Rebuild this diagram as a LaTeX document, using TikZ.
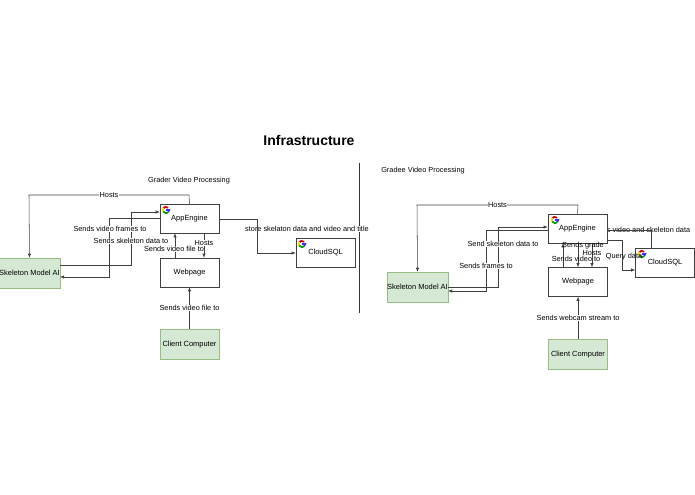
\documentclass[tikz,border=0pt]{standalone}
\usepackage{fontspec}
\setmainfont{Liberation Sans}
\usetikzlibrary{arrows.meta}
\definecolor{aigreen}{RGB}{213,232,212}
\definecolor{aiedge}{RGB}{150,190,130}
\tikzset{
  box/.style = {draw=black!75, fill=white, inner sep=0pt, font=\fontsize{5.6}{6.5}\selectfont},
  svc/.style = {box, minimum width=44.25pt, minimum height=21.75pt},% white service box
  host/.style = {box, fill=aigreen, draw=aiedge, minimum width=44.25pt,
    minimum height=22.5pt},% green machine box
  lbl/.style = {font=\fontsize{5.5}{6.5}\selectfont, fill=white, inner sep=0.4pt},
  flow/.style = {draw=black!75, -{Latex[length=3pt,width=2.5pt]}}
}
\newcommand{\glogo}[2]{% little google mark
  \draw[line width=1.3pt, red!80!black] (#1,#2) ++(45:2.4pt) arc (45:150:2.4pt);
  \draw[line width=1.3pt, yellow!80!orange] (#1,#2) ++(150:2.4pt) arc (150:210:2.4pt);
  \draw[line width=1.3pt, green!60!black] (#1,#2) ++(210:2.4pt) arc (210:315:2.4pt);
  \draw[line width=1.3pt, blue!80] (#1,#2) ++(315:2.4pt) arc (315:360:2.4pt) -- +(-2.4pt,0);
}
\begin{document}
\begin{tikzpicture}[x=0.75pt,y=-0.75pt]
\useasboundingbox (0,0) rectangle (695,494);
\node[font=\bfseries\fontsize{10.5}{12}\selectfont] (title) at (309,140) {Infrastructure};
\draw[black!80] (359,163) -- (359,313);

% grader side
\node[font=\fontsize{5.5}{6.5}\selectfont] (gtitle) at (189,181) {Grader Video Processing};
\node[lbl] at (307,229) {store skelaton data and video and title};
\node[svc] (app1) at (189.5,218.5) {AppEngine};
\node[svc] (sql1) at (325.5,252.5) {CloudSQL};
\node[svc] (web1) at (189.5,272.5) {Webpage};
\node[host] (ai1) at (29.5,273) {Skeleton Model AI};
\node[host] (cc1) at (189.5,344.5) {Client Computer};
\glogo{166}{210}
\glogo{302}{244}

\draw[flow] (app1.north) -- (189,195) -- node[lbl]{Hosts} (29,195) -- (ai1.north);
\draw[flow] (ai1.east |- 0,265) -- (131,265) -- (131,212) -- (app1.west |- 0,212);
\draw[flow] (app1.west |- 0,218) -- (109,218) -- (109,277) -- (ai1.east |- 0,277);
\node[lbl] at (110,229) {Sends video frames to};
\node[lbl] at (131,241) {Sends skeleton data to};
\draw[flow] (web1.north -| 175,0) -- (app1.south -| 175,0);
\node[lbl] at (174,249) {Sends video file to};
\draw[flow] (app1.south -| 204,0) -- node[lbl, pos=0.4]{Hosts} (web1.north -| 204,0);
\draw[flow] (app1.east |- 0,219) -- (257,219) -- (257,253) -- (sql1.west |- 0,253);
\draw[flow] (cc1.north) -- node[lbl]{Sends video file to} (web1.south);

% gradee side
\node[font=\fontsize{5.5}{6.5}\selectfont] (dtitle) at (423,171) {Gradee Video Processing};
\node[lbl] at (640,230) {Sends video and skeleton data};
\node[svc] (app2) at (577.5,228.5) {AppEngine};
\node[svc] (sql2) at (665,262.5) {CloudSQL};
\node[svc] (web2) at (578,282) {Webpage};
\node[host] (ai2) at (417.5,287) {Skeleton Model AI};
\node[host] (cc2) at (578,354.5) {Client Computer};
\glogo{555}{220}
\glogo{642}{254}

\draw[flow] (app2.north) -- (578,205) -- node[lbl]{Hosts} (417,205) -- (ai2.north);
\draw[flow] (ai2.east |- 0,287) -- (498,287) -- (498,227) -- (app2.west |- 0,227);
\draw[flow] (app2.west |- 0,230) -- (486,230) -- (486,291) -- (ai2.east |- 0,291);
\node[lbl] at (503,244) {Send skeleton data to};
\node[lbl] at (486,266) {Sends frames to};
\draw[flow] (web2.north -| 563,0) -- (app2.south -| 563,0);
\draw[flow] (app2.south -| 578,0) -- (web2.north -| 578,0);
\draw[flow] (app2.south -| 592,0) -- (web2.north -| 592,0);
\node[lbl, fill=none] at (583,246) {Sends grade};
\node[lbl, fill=none] at (592,253) {Hosts};
\node[lbl, fill=none] at (576,259) {Sends video to};
\draw[draw=black!75] (app2.east |- 0,230) -- (651,230) -- (sql2.north -| 651,0);
\draw[flow] (app2.east |- 0,240) -- (622,240) -- (622,270) -- (sql2.west |- 0,270);
\node[lbl, fill=none] at (624,257) {Query data};
\draw[flow] (cc2.north) -- node[lbl]{Sends webcam stream to} (web2.south);
\end{tikzpicture}
\end{document}
